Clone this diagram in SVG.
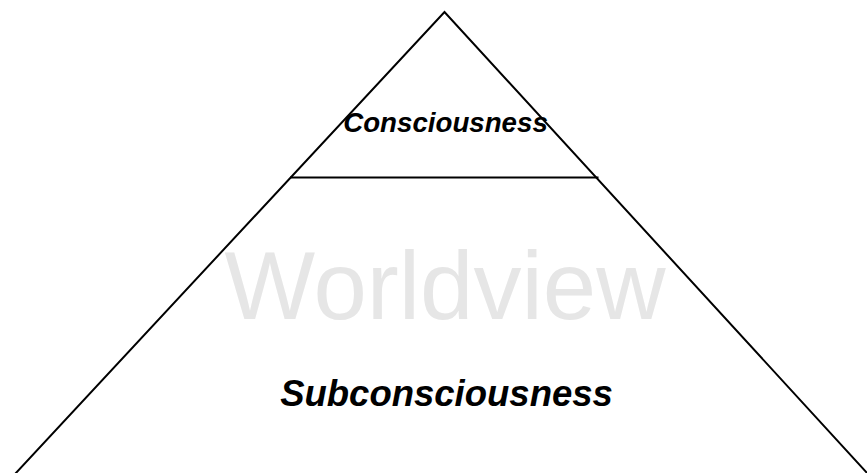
<svg xmlns="http://www.w3.org/2000/svg" width="867" height="473" viewBox="0 0 867 473">
<style>
.edge{fill:none;stroke:#000;stroke-width:2;stroke-linecap:butt}
.lbl{font-family:"Liberation Sans",Arial,sans-serif;font-weight:bold;font-style:italic;fill:#000;text-anchor:middle}
.wm{font-family:"Liberation Sans",Arial,sans-serif;fill:#e6e6e6;text-anchor:middle}
</style>
<rect width="867" height="473" fill="#fff"/>
<g id="watermark"><text class="wm" x="445" y="319" font-size="96">Worldview</text></g>
<g id="connectors">
<polyline class="edge" points="15,474 444.5,12 868,474"/>
<line class="edge" x1="290" y1="177.5" x2="598.5" y2="177.5"/>
</g>
<g id="consciousness"><text class="lbl" x="445.5" y="131.5" font-size="27.7">Consciousness</text></g>
<g id="subconsciousness"><text class="lbl" x="446.5" y="406" font-size="36.5">Subconsciousness</text></g>
</svg>
